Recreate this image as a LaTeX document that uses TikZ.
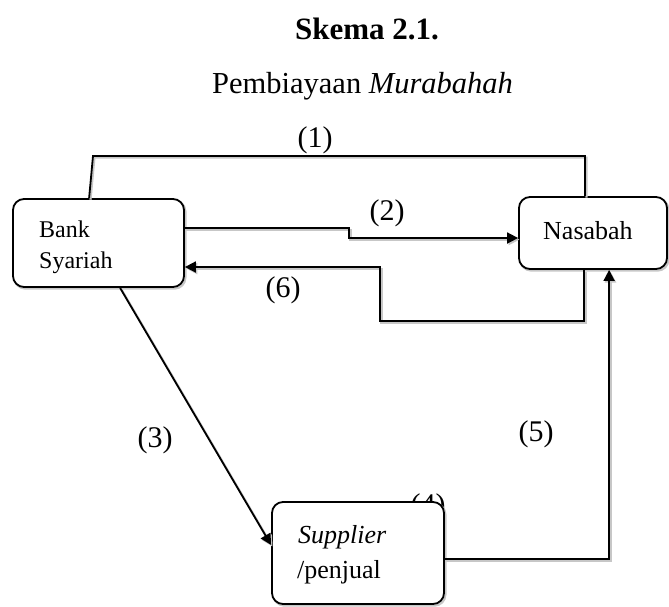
\documentclass[tikz,border=0pt]{standalone}
\usepackage{fontspec}
\setmainfont{Liberation Serif}
\usetikzlibrary{arrows.meta,calc}
\begin{document}
\begin{tikzpicture}[x=1pt,y=-1pt,
  shad/.style={preaction={draw=black!22,line width=2.2pt,transform canvas={shift={(1.4pt,-1.6pt)}}}},
  box/.style={draw,line width=1.8pt,rounded corners=11pt,fill=white,inner sep=0pt,shad},
  conn/.style={line width=1.8pt,shad},
  arr/.style={conn,-{Triangle[length=11pt,width=11pt]}},
  boxtext/.style={anchor=base west,inner sep=0pt,font=\fontsize{24}{29}\selectfont},
  boxtextb/.style={anchor=base west,inner sep=0pt,font=\fontsize{26}{31}\selectfont},
  lbl/.style={inner sep=0pt,font=\fontsize{30}{36}\selectfont}]
\useasboundingbox (0,0) rectangle (669,606);
% titles
\node[anchor=base,inner sep=0pt,font=\fontsize{31}{37}\selectfont\bfseries] (title) at (367,39) {Skema 2.1.};
\node[anchor=base west,inner sep=0pt,font=\fontsize{30.5}{36}\selectfont] (subtitle) at (212,93) {Pembiayaan \textit{Murabahah}};
% label (4) partly hidden behind supplier box
\node[lbl] (l4) at (428,507) {(4)};
% boxes
\node[box,minimum width=171pt,minimum height=88pt] (bank) at (98.5,243) {};
\node[box,minimum width=148pt,minimum height=72pt] (nas) at (593,233) {};
\node[box,minimum width=172pt,minimum height=102pt] (sup) at (358,553) {};
% box texts
\node[boxtext] (tbank) at (39,237) {Bank};
\node[boxtext] (tsyar) at (39,268) {Syariah};
\node[boxtextb] (tnas) at (543,239) {Nasabah};
\node[boxtextb] (tsup) at (298,543) {\textit{Supplier}};
\node[boxtextb] (tpen) at (297,578) {/penjual};
% coordinates for bends
\coordinate (c1a) at (93,156);
\coordinate (c1b) at (585,156);
\coordinate (c2) at (349,228);
\coordinate (c6) at (380,321);
% connectors
\draw[conn] ([xshift=77pt]bank.north west) -- (c1a) -- (c1b) -- (c1b |- nas.north);
\draw[arr] ([yshift=15pt]bank.east) -- (c2) |- ([yshift=-5pt]nas.west);
\draw[arr] ([xshift=66pt]nas.south west) |- (c6) |- ([yshift=-24pt]bank.east);
\draw[arr] ([xshift=108pt]bank.south west) -- ([yshift=8pt]sup.west);
\draw[arr] ([yshift=-6pt]sup.east) -| ([xshift=91pt]nas.south west);
% labels
\node[lbl] (l1) at (315,140) {(1)};
\node[lbl] (l2) at (387,213) {(2)};
\node[lbl] (l6) at (283,290) {(6)};
\node[lbl] (l3) at (155,440) {(3)};
\node[lbl] (l5) at (536,434) {(5)};
\end{tikzpicture}
\end{document}
